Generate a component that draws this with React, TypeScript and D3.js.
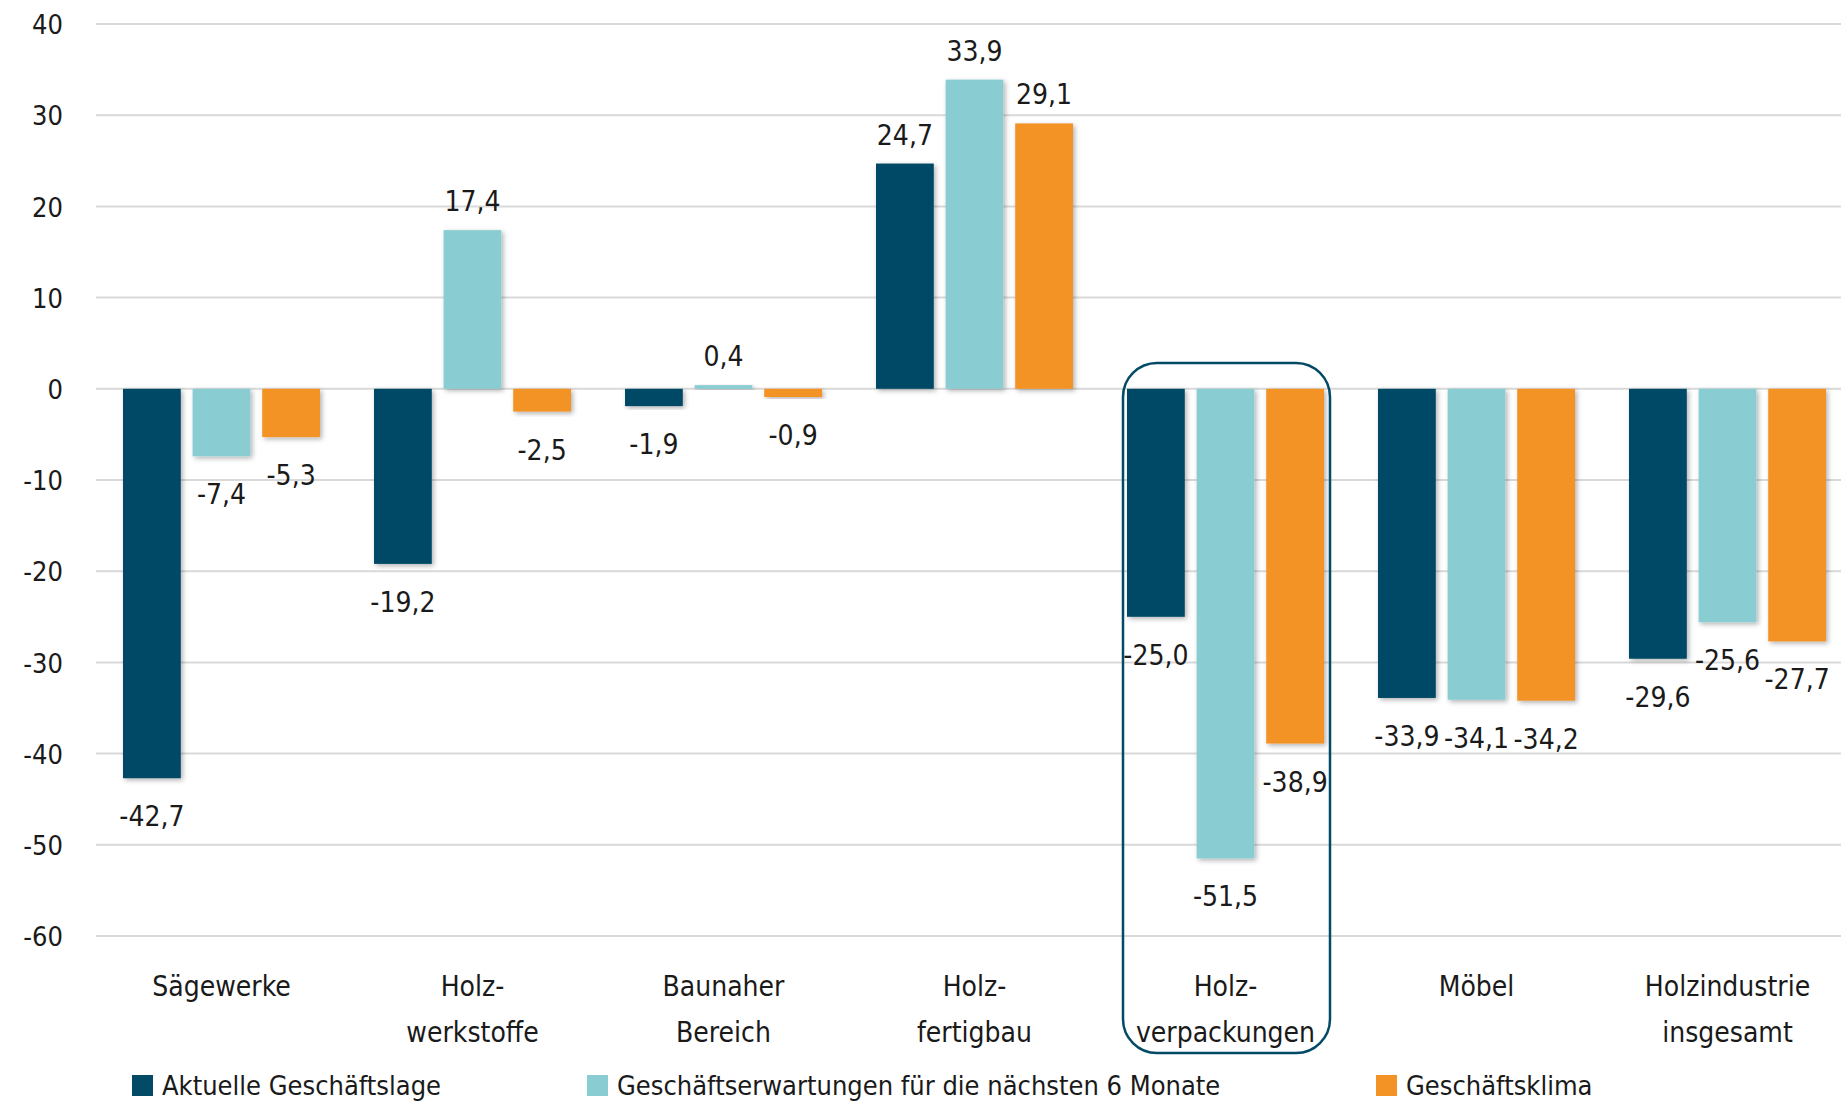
import React, { useEffect, useRef } from 'react';
import * as d3 from 'd3';

const categories = [
  ['Sägewerke'],
  ['Holz-', 'werkstoffe'],
  ['Baunaher', 'Bereich'],
  ['Holz-', 'fertigbau'],
  ['Holz-', 'verpackungen'],
  ['Möbel'],
  ['Holzindustrie', 'insgesamt'],
];
const seriesNames = [
  'Aktuelle Geschäftslage',
  'Geschäftserwartungen für die nächsten 6 Monate',
  'Geschäftsklima',
];
const lage = [-42.7, -19.2, -1.9, 24.7, -25.0, -33.9, -29.6];
const erwartungen = [-7.4, 17.4, 0.4, 33.9, -51.5, -34.1, -25.6];
const klima = [-5.3, -2.5, -0.9, 29.1, -38.9, -34.2, -27.7];
const yTicks = [40, 30, 20, 10, 0, -10, -20, -30, -40, -50, -60];
const colors = ['#034a66', '#89cdd3', '#f39325'];
const highlighted = 4;

const FONT = "'Liberation Sans Narrow', 'DejaVu Sans Condensed', sans-serif";

const App = () => {
  const chartRef = useRef(null);

  useEffect(() => {
    drawChart();
  }, []);

  const drawChart = () => {
    const width = 1841;
    const height = 1104;
    const values = [lage, erwartungen, klima];
    const keys = categories.map((c, i) => String(i));

    const svg = d3.select(chartRef.current);
    svg.selectAll('*').remove();
    svg.attr('width', width).attr('height', height);

    const defs = svg.append('defs');
    defs
      .append('filter')
      .attr('id', 'shadow')
      .attr('x', '-20%')
      .attr('y', '-20%')
      .attr('width', '140%')
      .attr('height', '140%')
      .append('feDropShadow')
      .attr('dx', 2)
      .attr('dy', 2)
      .attr('stdDeviation', 2.5)
      .attr('flood-color', '#000')
      .attr('flood-opacity', 0.3);

    const y = d3.scaleLinear().domain([-60, 40]).range([936, 24]);
    const x0 = d3.scaleBand().domain(keys).range([96, 96 + 7 * 251]).padding(0);
    const x1 = d3
      .scaleBand()
      .domain(seriesNames)
      .range([27, 251 - 27])
      .paddingInner(0.17)
      .paddingOuter(0);

    // gridlines + y labels
    const grid = svg.append('g');
    grid
      .selectAll('line')
      .data(yTicks)
      .enter()
      .append('line')
      .attr('x1', 96)
      .attr('x2', width)
      .attr('y1', d => y(d))
      .attr('y2', d => y(d))
      .attr('stroke', '#d9d9d9')
      .attr('stroke-width', 2);
    grid
      .selectAll('text')
      .data(yTicks)
      .enter()
      .append('text')
      .attr('x', 63)
      .attr('y', d => y(d))
      .attr('dy', '0.38em')
      .attr('text-anchor', 'end')
      .attr('font-family', FONT)
      .attr('font-size', 27)
      .attr('fill', '#1a1a1a')
      .text(d => d);

    // bars
    seriesNames.forEach((name, s) => {
      const g = svg.append('g');
      const data = values[s].map((v, i) => ({ key: keys[i], v }));
      g.selectAll('rect')
        .data(data)
        .enter()
        .append('rect')
        .attr('x', d => x0(d.key) + x1(name))
        .attr('y', d => y(Math.max(0, d.v)))
        .attr('width', x1.bandwidth())
        .attr('height', d => Math.abs(y(d.v) - y(0)))
        .attr('fill', colors[s])
        .attr('filter', 'url(#shadow)');
      g.selectAll('text')
        .data(data)
        .enter()
        .append('text')
        .attr('x', d => x0(d.key) + x1(name) + x1.bandwidth() / 2)
        .attr('y', d => (d.v >= 0 ? y(d.v) - 19 : y(d.v) + 48))
        .attr('text-anchor', 'middle')
        .attr('font-family', FONT)
        .attr('font-size', 28)
        .attr('fill', '#1a1a1a')
        .text(d => d3.format('.1f')(d.v).replace('.', ',').replace('−', '-'));
    });

    // category labels
    const cat = svg.append('g');
    categories.forEach((lines, i) => {
      const t = cat
        .append('text')
        .attr('x', x0(keys[i]) + x0.bandwidth() / 2)
        .attr('y', 996)
        .attr('text-anchor', 'middle')
        .attr('font-family', FONT)
        .attr('font-size', 28)
        .attr('fill', '#1a1a1a');
      lines.forEach((l, j) => {
        t.append('tspan')
          .attr('x', x0(keys[i]) + x0.bandwidth() / 2)
          .attr('dy', j === 0 ? 0 : 46)
          .text(l);
      });
    });

    // highlight frame
    const hx = x0(keys[highlighted]);
    svg
      .append('rect')
      .attr('x', hx + x1(seriesNames[0]) - 4)
      .attr('y', 363)
      .attr('width', x1.range()[1] - x1.range()[0] + 10)
      .attr('height', 1053 - 363)
      .attr('rx', 34)
      .attr('ry', 34)
      .attr('fill', 'none')
      .attr('stroke', colors[0])
      .attr('stroke-width', 2.5);

    // legend
    const legendX = [132, 587, 1376];
    const legend = svg.append('g');
    seriesNames.forEach((name, s) => {
      legend
        .append('rect')
        .attr('x', legendX[s])
        .attr('y', 1075)
        .attr('width', 21)
        .attr('height', 21)
        .attr('fill', colors[s]);
      legend
        .append('text')
        .attr('x', legendX[s] + 30)
        .attr('y', 1095)
        .attr('font-family', FONT)
        .attr('font-size', 27)
        .attr('fill', '#1a1a1a')
        .text(name);
    });
  };

  return (
    <div style={{ position: 'absolute', left: 0, top: 0 }}>
      <svg ref={chartRef} style={{ display: 'block' }}></svg>
    </div>
  );
};

export default App;
